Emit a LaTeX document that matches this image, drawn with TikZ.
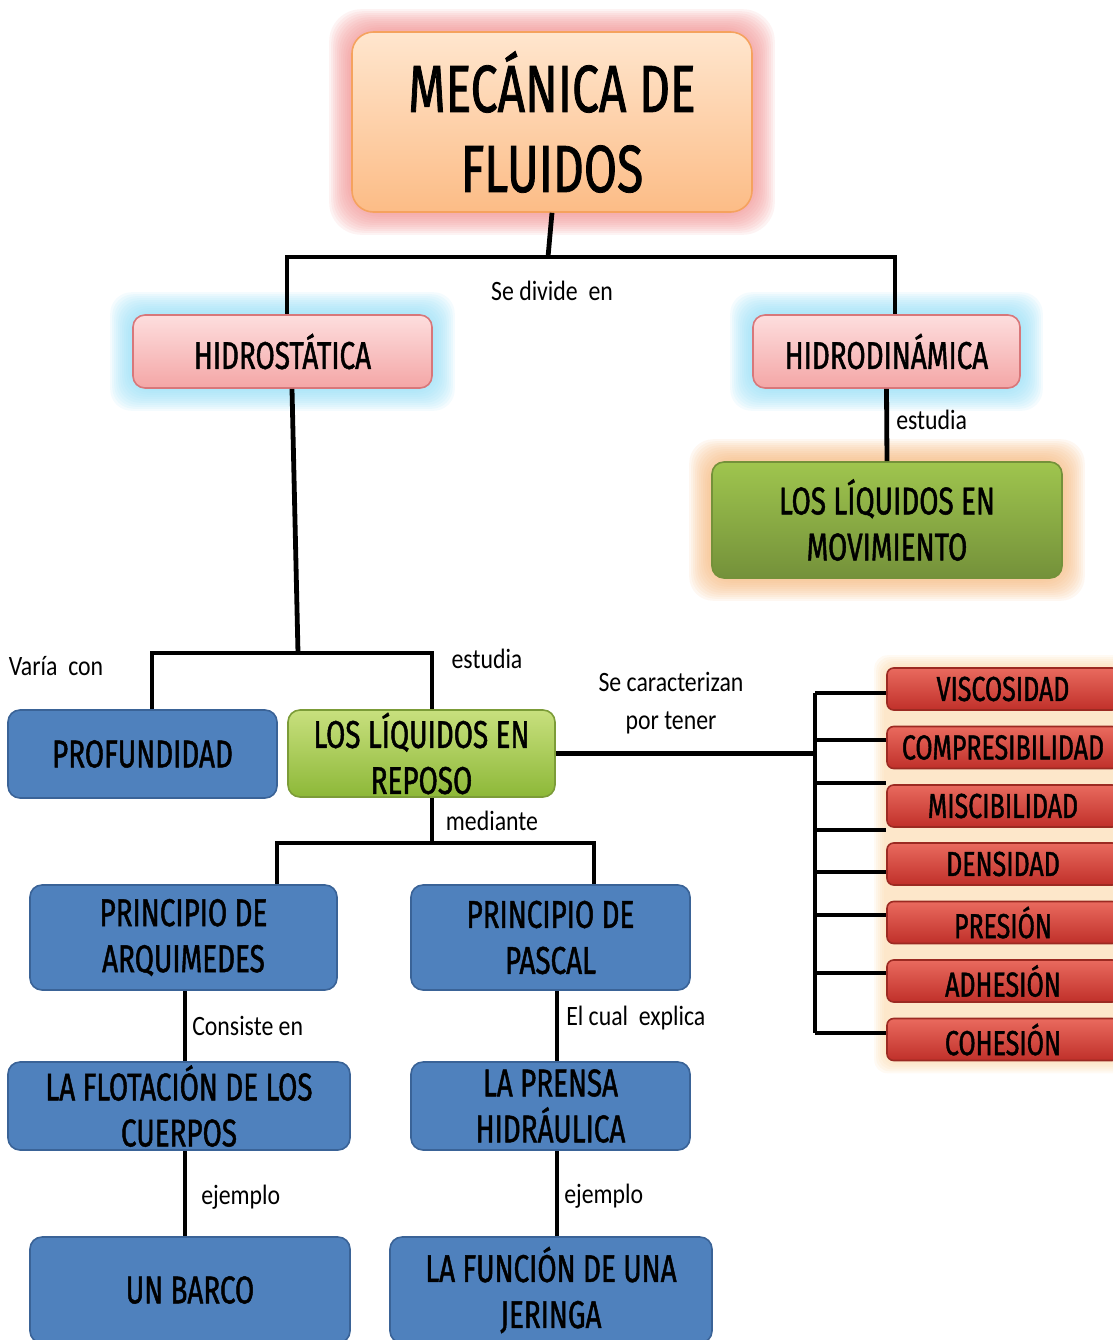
\documentclass[tikz,border=0pt]{standalone}
\usepackage{fontspec}
\usetikzlibrary{backgrounds}
\newfontfamily\boxfont[FakeStretch=0.72, FakeBold=1.2]{Fira Sans}
\newfontfamily\tagfont[FakeStretch=0.85]{Carlito}

\definecolor{peachtop}{HTML}{FFE6CE}
\definecolor{peachbot}{HTML}{FCBC86}
\definecolor{peachedge}{HTML}{F5A25E}
\definecolor{glowpink}{HTML}{F08C8C}
\definecolor{pinktop}{HTML}{FDDEDE}
\definecolor{pinkbot}{HTML}{F4A6A6}
\definecolor{pinkedge}{HTML}{D8777A}
\definecolor{glowblue}{HTML}{8FDCF6}
\definecolor{greentop}{HTML}{9FC54E}
\definecolor{greenbot}{HTML}{74913A}
\definecolor{glowamber}{HTML}{F5B578}
\definecolor{limetop}{HTML}{C8E07E}
\definecolor{limebot}{HTML}{8DB838}
\definecolor{limeedge}{HTML}{7C9C38}
\definecolor{bluefill}{HTML}{4F81BD}
\definecolor{blueedge}{HTML}{3A6397}
\definecolor{redtop}{HTML}{E96A5E}
\definecolor{redbot}{HTML}{C0302A}
\definecolor{rededge}{HTML}{9C2A22}
\definecolor{glowsand}{HTML}{FBD39C}

\tikzset{
  boxsize/.style 2 args={minimum width=#1*0.75pt, minimum height=#2*0.75pt},
  concept/.style={rounded corners=9pt, line width=1.2pt, align=center, inner sep=0pt,
    font=\boxfont\fontsize{29}{34.5}\selectfont},
  bluebox/.style={concept, draw=blueedge, fill=bluefill},
  pinkbox/.style={concept, draw=pinkedge, top color=pinktop, bottom color=pinkbot},
  greenbox/.style={concept, draw=greenbot, top color=greentop, bottom color=greenbot},
  limebox/.style={concept, draw=limeedge, top color=limetop, bottom color=limebot},
  redbox/.style={concept, rounded corners=5pt, draw=rededge, top color=redtop, bottom color=redbot,
    font=\boxfont\fontsize{26}{30}\selectfont, boxsize={232}{42}},
  tag/.style={font=\tagfont\fontsize{21}{25}\selectfont, inner sep=0pt},
  link/.style={line width=3.6pt, black},
}

\newcommand{\glowbox}[3]{%
  \foreach \d in {22,20,...,2}
    \fill[#2, opacity=0.1, rounded corners=#3]
      ([shift={(-\d,-\d)}]#1.north west) rectangle ([shift={(\d,\d)}]#1.south east);}

\begin{document}
\begin{tikzpicture}[x=0.75pt, y=-0.75pt]
  \useasboundingbox (0,0) rectangle (1113,1340);
  \clip (0,0) rectangle (1113,1340);

  % top
  \node[concept, rounded corners=16pt, draw=peachedge, top color=peachtop, bottom color=peachbot,
    boxsize={400}{180}, font=\boxfont\fontsize{50}{60}\selectfont] (title) at (552,122)
    {MECÁNICA DE\\FLUIDOS};
  \node[pinkbox, boxsize={299}{73}] (hidrost) at (282.5,351.5) {HIDROSTÁTICA};
  \node[pinkbox, boxsize={267}{73}] (hidrodin) at (886.5,351.5) {HIDRODINÁMICA};
  \node[greenbox, boxsize={350}{116}] (movim) at (887,520) {LOS LÍQUIDOS EN\\MOVIMIENTO};

  % hidrostatica
  \node[bluebox, boxsize={269}{88}] (profund) at (142.5,754) {PROFUNDIDAD};
  \node[limebox, boxsize={267}{87}] (reposo) at (421.5,753.5) {LOS LÍQUIDOS EN\\REPOSO};
  \node[bluebox, boxsize={307}{105}] (arqui) at (183.5,937.5) {PRINCIPIO DE\\ARQUIMEDES};
  \node[bluebox, boxsize={279}{105}] (pascal) at (550.5,937.5) {PRINCIPIO DE\\PASCAL};
  \node[bluebox, boxsize={342}{88}] (flot) at (179,1106) {LA FLOTACIÓN DE LOS\\CUERPOS};
  \node[bluebox, boxsize={279}{88}] (prensa) at (550.5,1106) {LA PRENSA\\HIDRÁULICA};
  \node[bluebox, boxsize={320}{106}] (barco) at (190,1290) {UN BARCO};
  \node[bluebox, boxsize={322}{106}] (jeringa) at (551,1290) {LA FUNCIÓN DE UNA\\JERINGA};

  % propiedades
  \foreach \name/\y/\txt in {visc/689/VISCOSIDAD, compr/747.5/COMPRESIBILIDAD,
      misc/806/MISCIBILIDAD, dens/864/DENSIDAD, pres/922.5/PRESIÓN,
      adhe/981/ADHESIÓN, cohe/1039.5/COHESIÓN}
    \node[redbox] (\name) at (1003,\y) {\txt};

  % glows
  \begin{scope}[on background layer]
    \glowbox{title}{glowpink}{24pt}
    \glowbox{hidrost}{glowblue}{16pt}
    \glowbox{hidrodin}{glowblue}{16pt}
    \glowbox{movim}{glowamber}{18pt}
    \foreach \d in {12,10,...,2}
      \fill[glowsand, opacity=0.12, rounded corners=10pt]
        ([shift={(-\d,-\d)}]visc.north west) rectangle ([shift={(\d,\d)}]cohe.south east);
  \end{scope}

  % connectors
  \coordinate (split) at (548,257);
  \draw[link] (title.south) -- (split);
  \draw[link] (hidrost.north -| 287,0) |- (split) -| (hidrodin.north -| 895,0);
  \node[tag] (divide) at (552,291) {Se divide\ \ en};

  \draw[link] (hidrodin.south) -- (movim.north);
  \node[tag, anchor=west] (estudia1) at (896,420) {estudia};

  \coordinate (fork) at (298,653);
  \coordinate (forkl) at (152,653);
  \coordinate (forkr) at (432,653);
  \draw[link] (hidrost.south -| 292,0) -- (fork);
  \draw[link] (forkl |- profund.north) -- (forkl) -- (forkr) -- (forkr |- reposo.north);
  \node[tag] (varia) at (56,666) {Varía\ \ con};
  \node[tag] (estudia2) at (487,659) {estudia};

  \coordinate (bus) at (815,693);
  \coordinate (busend) at (815,1033);
  \draw[link] (reposo.east) -- (reposo.east -| bus);
  \draw[link] (bus) -- (busend);
  \foreach \y in {693,740,783,830,872,915,973,1033}
    \draw[link] (bus |- 0,\y) -- (visc.west |- 0,\y);
  \node[tag] (caract) at (671,682) {Se caracterizan};
  \node[tag] (portener) at (671,723) {por tener};

  \coordinate (med) at (432,843);
  \draw[link] (med |- reposo.south) -- (med);
  \draw[link] (arqui.north -| 277,0) |- (med) -| (pascal.north -| 594,0);
  \node[tag] (mediante) at (492,821) {mediante};

  \draw[link, line width=3pt] (arqui.south -| 185,0) -- (flot.north -| 185,0);
  \draw[link, line width=3pt] (pascal.south -| 557,0) -- (prensa.north -| 557,0);
  \draw[link, line width=3pt] (flot.south -| 185,0) -- (barco.north -| 185,0);
  \draw[link, line width=3pt] (prensa.south -| 557,0) -- (jeringa.north -| 557,0);
  \node[tag, anchor=west] (consiste) at (192,1026) {Consiste en};
  \node[tag, anchor=west] (explica) at (566,1018) {El cual\ \ explica};
  \node[tag, anchor=west] (ejemplo1) at (201,1197) {ejemplo};
  \node[tag, anchor=west] (ejemplo2) at (564,1196) {ejemplo};
\end{tikzpicture}
\end{document}
